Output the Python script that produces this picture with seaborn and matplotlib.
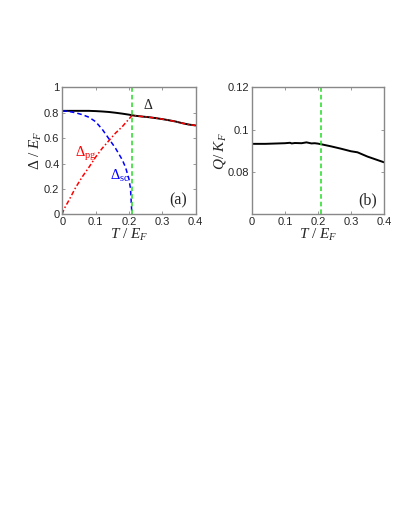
import numpy as np
import pandas as pd
import seaborn as sns
import matplotlib.pyplot as plt

sns.set_style('white')
plt.rcParams['font.family'] = ['Liberation Sans', 'DejaVu Sans']
plt.rcParams['mathtext.fontset'] = 'custom'
plt.rcParams['mathtext.rm'] = 'Liberation Serif'
plt.rcParams['mathtext.it'] = 'Liberation Serif:italic'

# panel (a) data
T_a = [0, 0.02, 0.04, 0.06, 0.08, 0.10, 0.12, 0.14, 0.16, 0.18, 0.20, 0.21,
       0.22, 0.24, 0.26, 0.28, 0.30, 0.32, 0.34, 0.36, 0.38, 0.40]
delta = [0.815, 0.815, 0.815, 0.815, 0.815, 0.813, 0.81, 0.806, 0.80, 0.793, 0.785, 0.78,
         0.776, 0.77, 0.765, 0.758, 0.75, 0.741, 0.731, 0.718, 0.707, 0.70]
T_pg = [0, 0.005, 0.02, 0.04, 0.06, 0.08, 0.10, 0.12, 0.14, 0.16, 0.18, 0.20, 0.21,
        0.22, 0.24, 0.26, 0.28, 0.30, 0.32, 0.34, 0.36, 0.38, 0.40]
delta_pg = [0, 0.04, 0.11, 0.21, 0.295, 0.37, 0.45, 0.52, 0.58, 0.64, 0.69, 0.75, 0.78,
            0.776, 0.77, 0.765, 0.758, 0.75, 0.741, 0.731, 0.718, 0.707, 0.70]
T_sc = [0, 0.02, 0.04, 0.06, 0.08, 0.10, 0.12, 0.14, 0.16, 0.18, 0.19, 0.20, 0.205, 0.209]
delta_sc = [0.815, 0.81, 0.80, 0.785, 0.765, 0.73, 0.67, 0.595, 0.52, 0.43, 0.37, 0.28, 0.2, 0.0]
T_c = 0.208

# panel (b) data
T_b = [0, 0.04, 0.08, 0.10, 0.115, 0.12, 0.13, 0.15, 0.165, 0.18, 0.19, 0.20, 0.21,
       0.24, 0.27, 0.30, 0.32, 0.35, 0.40]
q = [0.0933, 0.0933, 0.0935, 0.0936, 0.0938, 0.0935, 0.0937, 0.0936, 0.094, 0.0935, 0.0936,
     0.0934, 0.0931, 0.0921, 0.091, 0.0898, 0.0893, 0.0873, 0.0846]

fig = plt.figure(figsize=(3.99, 5.16), dpi=100)
ax1 = fig.add_axes([0.156, 0.5847, 0.334, 0.246])
ax2 = fig.add_axes([0.632, 0.5847, 0.330, 0.246])

sns.lineplot(x=T_a, y=delta, ax=ax1, color='black', lw=1.4)
sns.lineplot(x=T_pg, y=delta_pg, ax=ax1, color='red', lw=1.1, linestyle=(0, (3, 1.5, 1, 1.5)))
sns.lineplot(x=T_sc, y=delta_sc, ax=ax1, color='blue', lw=1.1, linestyle=(0, (3, 2)))
ax1.axvline(T_c, color='#22dd22', lw=1.1, linestyle=(0, (3, 2)))

sns.lineplot(x=T_b, y=q, ax=ax2, color='black', lw=1.4)
ax2.axvline(T_c, color='#22dd22', lw=1.1, linestyle=(0, (3, 2)))

ax1.set_xlim(0, 0.4)
ax1.set_ylim(0, 1)
ax1.set_xticks([0, 0.1, 0.2, 0.3, 0.4])
ax1.set_xticklabels(['0', '0.1', '0.2', '0.3', '0.4'])
ax1.set_yticks([0, 0.2, 0.4, 0.6, 0.8, 1])
ax1.set_yticklabels(['0', '0.2', '0.4', '0.6', '0.8', '1'])

ax2.set_xlim(0, 0.4)
ax2.set_ylim(0.06, 0.12)
ax2.set_xticks([0, 0.1, 0.2, 0.3, 0.4])
ax2.set_xticklabels(['0', '0.1', '0.2', '0.3', '0.4'])
ax2.set_yticks([0.08, 0.1, 0.12])
ax2.set_yticklabels(['0.08', '0.1', '0.12'])

for ax in (ax1, ax2):
    for s in ax.spines.values():
        s.set_visible(True)
        s.set_color('#888888')
        s.set_linewidth(1.0)
    ax.tick_params(direction='in', length=2, width=0.6, color='#888888',
                   labelsize=8, pad=2, top=True, right=True, bottom=True, left=True)
    ax.set_xlabel(r'$T\ /\ E_F$', fontsize=11, labelpad=0)

ax1.set_ylabel(r'$\mathrm{\Delta}\ /\ E_F$', fontsize=11, labelpad=0)
ax2.set_ylabel(r'$Q/\ K_F$', fontsize=11, labelpad=0)

ax1.text(0.243, 0.83, r'$\mathrm{\Delta}$', fontsize=10)
ax1.text(0.037, 0.45, r'$\mathrm{\Delta}_{\mathrm{pg}}$', color='red', fontsize=10.5)
ax1.text(0.143, 0.27, r'$\mathrm{\Delta}_{\mathrm{sc}}$', color='blue', fontsize=10.5)
ax1.text(0.322, 0.08, '(a)', fontsize=11.5, family='Liberation Serif')
ax2.text(0.322, 0.0648, '(b)', fontsize=11.5, family='Liberation Serif')

fig.savefig('out.png', dpi=100)
